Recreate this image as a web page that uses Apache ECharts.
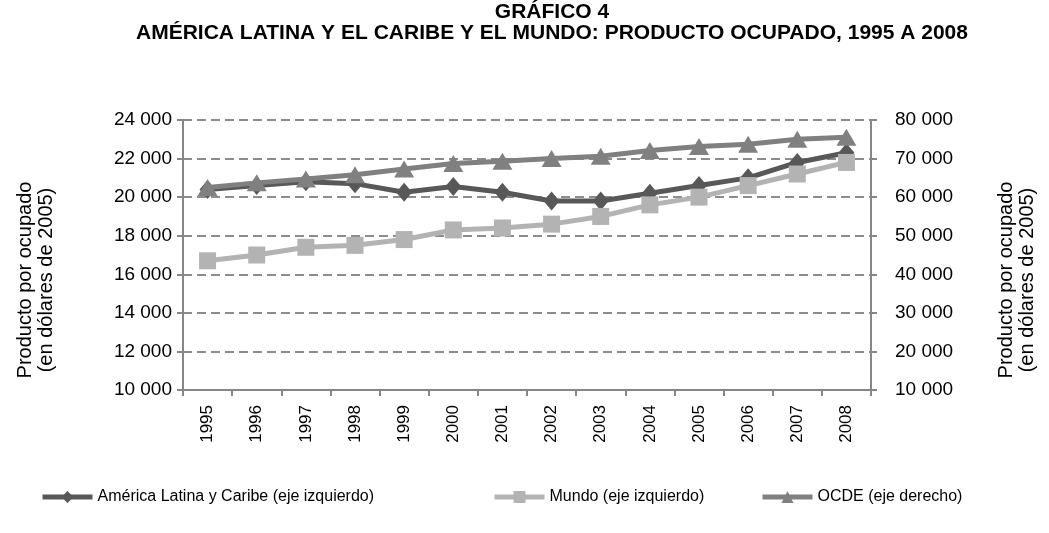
<!DOCTYPE html>
<html>
<head>
<meta charset="utf-8">
<script src="https://cdn.jsdelivr.net/npm/echarts@6/dist/echarts.min.js"></script>
<style>
html,body{margin:0;padding:0;background:#fff;}
#c{width:1049px;height:533px;}
</style>
</head>
<body>
<div id="c"></div>
<script>
const years = ['1995','1996','1997','1998','1999','2000','2001','2002','2003','2004','2005','2006','2007','2008'];
const alc   = [20400,20600,20800,20700,20250,20550,20250,19800,19800,20200,20600,21000,21800,22300];
const mundo = [16700,17000,17400,17500,17800,18300,18400,18600,19000,19600,20000,20600,21200,21800];
const ocde  = [62500,63700,64700,65800,67300,68700,69300,70000,70600,72100,73100,73700,75000,75500];
const seriesNames = ['América Latina y Caribe (eje izquierdo)','Mundo (eje izquierdo)','OCDE (eje derecho)'];
const titleLines = ['GRÁFICO 4','AMÉRICA LATINA Y EL CARIBE Y EL MUNDO: PRODUCTO OCUPADO, 1995 A 2008'];
const axisName1 = 'Producto por ocupado';
const axisName2 = '(en dólares de 2005)';

const FONT = '"Liberation Sans", Arial, sans-serif';
const fmt = v => String(v).replace(/\B(?=(\d{3})+(?!\d))/g, ' ');
const axisGray = '#868686';
const colors = ['#585858', '#b3b3b3', '#808080'];

function legendAt(i, left) {
  return {
    data:[seriesNames[i]], top:489, left:left, padding:0,
    itemWidth:50, itemHeight:15, itemGap:0,
    lineStyle:{width:5},
    textStyle:{fontSize:16, color:'#000', fontFamily:FONT}
  };
}

const chart = echarts.init(document.getElementById('c'), null, {renderer:'canvas'});
chart.setOption({
  backgroundColor:'#ffffff',
  animation:false,
  textStyle:{fontFamily:FONT},
  graphic:[
    {type:'text', x:552, y:12, style:{text:titleLines[0], font:'bold 21px '+FONT, fill:'#000', textAlign:'center', textVerticalAlign:'middle'}},
    {type:'text', x:552, y:33, style:{text:titleLines[1], font:'bold 21px '+FONT, fill:'#000', textAlign:'center', textVerticalAlign:'middle'}},
    {type:'text', x:25, y:280, rotation:Math.PI/2, style:{text:axisName1, font:'20px '+FONT, fill:'#000', textAlign:'center', textVerticalAlign:'middle'}},
    {type:'text', x:46, y:280, rotation:Math.PI/2, style:{text:axisName2, font:'20px '+FONT, fill:'#000', textAlign:'center', textVerticalAlign:'middle'}},
    {type:'text', x:1006, y:280, rotation:Math.PI/2, style:{text:axisName1, font:'20px '+FONT, fill:'#000', textAlign:'center', textVerticalAlign:'middle'}},
    {type:'text', x:1027, y:280, rotation:Math.PI/2, style:{text:axisName2, font:'20px '+FONT, fill:'#000', textAlign:'center', textVerticalAlign:'middle'}}
  ],
  legend:[legendAt(0, 40), legendAt(1, 492), legendAt(2, 760)],
  grid:{left:183, right:178, top:120, bottom:143, containLabel:false},
  xAxis:{
    type:'category', data:years, boundaryGap:true,
    axisLine:{lineStyle:{color:axisGray, width:2}},
    axisTick:{show:true, length:6, lineStyle:{color:axisGray, width:2}},
    axisLabel:{rotate:90, fontSize:17, color:'#000', margin:15, fontFamily:FONT},
    splitLine:{show:false}
  },
  yAxis:[
    {type:'value', min:10000, max:24000, interval:2000, position:'left',
     axisLine:{show:true, lineStyle:{color:axisGray, width:2}},
     axisTick:{show:true, length:6, lineStyle:{color:axisGray, width:2}},
     axisLabel:{formatter:fmt, fontSize:19, color:'#000', margin:11, fontFamily:FONT},
     splitLine:{show:true, lineStyle:{color:'#8c8c8c', width:2, type:[9,5]}}},
    {type:'value', min:10000, max:80000, interval:10000, position:'right',
     axisLine:{show:true, lineStyle:{color:axisGray, width:2}},
     axisTick:{show:true, length:6, lineStyle:{color:axisGray, width:2}},
     axisLabel:{formatter:fmt, fontSize:19, color:'#000', margin:24, fontFamily:FONT},
     splitLine:{show:false}}
  ],
  series:[
    {name:seriesNames[0], type:'line', yAxisIndex:0, data:alc,
     symbol:'diamond', symbolSize:[16,19], lineStyle:{width:5, color:colors[0]},
     itemStyle:{color:colors[0]}, z:2},
    {name:seriesNames[1], type:'line', yAxisIndex:0, data:mundo,
     symbol:'rect', symbolSize:17, lineStyle:{width:5, color:colors[1]},
     itemStyle:{color:colors[1]}, z:3},
    {name:seriesNames[2], type:'line', yAxisIndex:1, data:ocde,
     symbol:'triangle', symbolSize:[20,17], lineStyle:{width:5, color:colors[2]},
     itemStyle:{color:colors[2]}, z:4}
  ]
});
</script>
</body>
</html>
